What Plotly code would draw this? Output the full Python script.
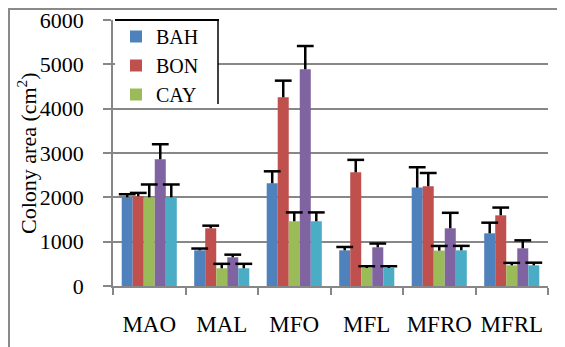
import plotly.graph_objects as go

categories = ["MAO", "MAL", "MFO", "MFL", "MFRO", "MFRL"]
series_names = ["BAH", "BON", "CAY", "S4", "S5"]
series_colors = ["#4F81BD", "#C0504D", "#9BBB59", "#8064A2", "#4BACC6"]
show_in_legend = [True, True, True, False, False]

bah = [2000, 805, 2317, 805, 2219, 1188]
bon = [2025, 1301, 4257, 2565, 2249, 1594]
cay = [2000, 400, 1460, 406, 798, 466]
s4 = [2858, 647, 4888, 873, 1301, 850]
s5 = [2000, 400, 1460, 406, 805, 466]

bah_err = [70, 40, 270, 75, 460, 240]
bon_err = [75, 60, 375, 280, 300, 175]
cay_err = [290, 100, 200, 40, 105, 55]
s4_err = [340, 60, 525, 85, 350, 180]
s5_err = [290, 100, 200, 40, 100, 60]

values = [bah, bon, cay, s4, s5]
errors = [bah_err, bon_err, cay_err, s4_err, s5_err]

FONT = "Liberation Serif"
GRID = "#878787"

fig = go.Figure()
for i, (name, col, vals, errs, sl) in enumerate(zip(series_names, series_colors, values, errors, show_in_legend)):
    fig.add_trace(go.Bar(
        x=categories, y=vals, name=name, marker=dict(color=col, line=dict(width=0)),
        showlegend=sl, offsetgroup=str(i),
        error_y=dict(type="data", array=errs, arrayminus=[0] * len(errs), symmetric=False,
                     color="black", thickness=2.5, width=0),
    ))
# caps of the (upper-only) error bars
for i, (vals, errs) in enumerate(zip(values, errors)):
    fig.add_trace(go.Scatter(
        x=categories, y=[v + e for v, e in zip(vals, errs)], mode="markers",
        offsetgroup=str(i), showlegend=False, hoverinfo="skip",
        marker=dict(symbol="line-ew-open", size=12, color="black",
                    line=dict(color="black", width=2.5)),
    ))

# page offset (browser body margin) and plot area in screen px: x 113..548, y 20..286
OFF = 8
FW, FH = 565 - OFF, 347 - OFF
L, R, T, B = 113, 548, 20, 286
W, H = R - L, B - T
px = lambda x: (x - L) / W
py = lambda y: (B - y) / H

shapes = [
    dict(type="line", xref="paper", yref="paper", x0=px(8.5), x1=px(8.5), y0=py(8.5), y1=py(360),
         line=dict(color="#8a8a8a", width=3)),
    dict(type="line", xref="paper", yref="paper", x0=px(7), x1=px(580), y0=py(8.5), y1=py(8.5),
         line=dict(color="#8a8a8a", width=3)),
    dict(type="rect", xref="paper", yref="paper", x0=px(115), x1=px(218), y0=py(21), y1=py(104),
         fillcolor="white", line=dict(width=0), layer="above"),
    dict(type="line", xref="paper", yref="paper", x0=px(115), x1=px(219), y0=py(20), y1=py(20),
         line=dict(color="black", width=2), layer="above"),
    dict(type="line", xref="paper", yref="paper", x0=px(218), x1=px(218), y0=py(20), y1=py(104),
         line=dict(color="black", width=1.5), layer="above"),
]

fig.update_layout(
    width=FW, height=FH,
    margin=dict(l=L - OFF, r=565 - R, t=T - OFF, b=347 - B, autoexpand=False),
    paper_bgcolor="white", plot_bgcolor="white",
    barmode="group", bargap=0.24, bargroupgap=0,
    scattermode="group", scattergap=0.24,
    font=dict(family=FONT, color="black"),
    showlegend=True,
    legend=dict(x=px(116), y=py(17), xanchor="left", yanchor="top",
                bgcolor="rgba(0,0,0,0)", borderwidth=0,
                font=dict(family=FONT, size=20, color="black"),
                itemwidth=30, tracegroupgap=0),
    xaxis=dict(showline=True, linecolor=GRID, linewidth=2, ticks="outside",
               tickson="boundaries", ticklen=7, tickcolor=GRID, tickwidth=1.5,
               tickangle=0, automargin=False, ticklabeloverflow="allow",
               tickfont=dict(family=FONT, size=23, color="black"), ticklabelstandoff=16,
               showgrid=False),
    yaxis=dict(range=[0, 6000], dtick=1000, showline=True, linecolor=GRID, linewidth=1.5,
               ticks="outside", ticklen=8, tickcolor=GRID, tickwidth=1.5, automargin=False,
               ticklabeloverflow="allow",
               showgrid=True, gridcolor=GRID, gridwidth=1.5, zeroline=False,
               tickfont=dict(family=FONT, size=22, color="black"), ticklabelstandoff=15),
    shapes=shapes,
    annotations=[dict(text="Colony area (cm<sup>2</sup>)", xref="paper", yref="paper",
                      x=px(27), y=py(153), textangle=-90, showarrow=False,
                      font=dict(family=FONT, size=22, color="black"),
                      xanchor="center", yanchor="middle")],
)

fig.write_html("out.html")
